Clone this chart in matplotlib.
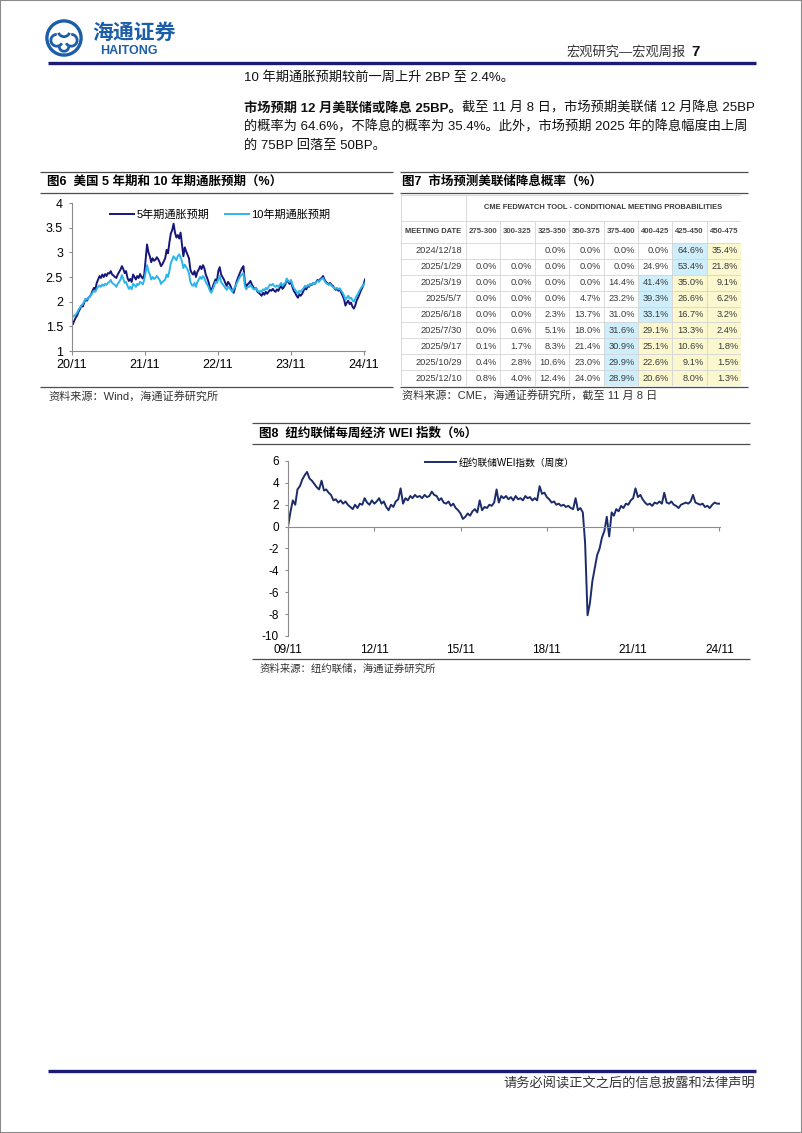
import numpy as np
import pandas as pd
import matplotlib
matplotlib.use('Agg')
import matplotlib.pyplot as plt
import matplotlib.dates as mdates
from matplotlib.lines import Line2D
from matplotlib.patches import Rectangle, Circle, Arc
from matplotlib.ticker import FuncFormatter, MultipleLocator, FixedLocator

plt.rcParams['font.family'] = ['Liberation Sans', 'Noto Sans CJK SC', 'DejaVu Sans']

# ---- fig6: 5y / 10y breakeven inflation, weekly (Fridays) from 2020-11-06, % ----
be_start = '2020-11-06'
be5y = [
    1.55, 1.62, 1.68, 1.72,            # 2020-11
    1.80, 1.85, 1.92, 1.90,            # 2020-12
    1.98, 2.05, 2.02, 2.08, 2.10,      # 2021-01
    2.15, 2.22, 2.28, 2.25,
    2.38, 2.45, 2.52, 2.48,
    2.55, 2.50, 2.56, 2.52, 2.58,
    2.57, 2.62, 2.55, 2.53,
    2.50, 2.48, 2.55, 2.60,
    2.65, 2.72, 2.66, 2.58, 2.62,
    2.48, 2.42, 2.46, 2.40,
    2.55, 2.50, 2.45, 2.52,
    2.48, 2.56, 2.50, 2.47, 2.55,
    2.85, 3.16, 3.00, 2.92,            # 2021-11
    2.80, 2.88, 2.83, 2.85, 2.90,
    2.86, 2.80, 2.72, 2.76,            # 2022-01
    2.82, 2.88, 3.05, 2.98,
    3.20, 3.38, 3.45, 3.58,
    3.40, 3.30, 3.35, 3.28, 3.40,
    3.15, 2.92, 3.10, 3.02,
    2.95, 2.88, 2.65, 2.58,
    2.55, 2.62, 2.50, 2.60, 2.65,
    2.72, 2.66, 2.74, 2.68,
    2.55, 2.48, 2.40, 2.28, 2.22,
    2.30, 2.38, 2.45, 2.42,
    2.62, 2.70, 2.55, 2.50,            # 2022-11
    2.45, 2.38, 2.32, 2.40, 2.36,
    2.30, 2.22, 2.18, 2.28,            # 2023-01
    2.40, 2.48, 2.55, 2.62,
    2.68, 2.72, 2.40, 2.30, 2.35,
    2.38, 2.42, 2.35, 2.30,
    2.25, 2.28, 2.20, 2.18,
    2.15, 2.12, 2.18, 2.14, 2.20,
    2.16, 2.20, 2.24, 2.22,
    2.26, 2.22, 2.20, 2.25,
    2.22, 2.28, 2.32, 2.26, 2.30,
    2.35, 2.45, 2.40, 2.36,
    2.42, 2.30, 2.22, 2.18,            # 2023-11
    2.12, 2.08, 2.15, 2.12, 2.16,
    2.22, 2.28, 2.25, 2.32,            # 2024-01
    2.30, 2.36, 2.34, 2.38,
    2.36, 2.40, 2.44, 2.42, 2.46,
    2.48, 2.52, 2.45, 2.40,
    2.38, 2.35, 2.38, 2.34, 2.32,
    2.28, 2.24, 2.26, 2.22,
    2.25, 2.18, 2.12, 2.05,
    1.92, 1.98, 2.02, 1.95, 1.98,
    1.90, 1.86, 1.92, 2.02,
    2.08, 2.15, 2.22, 2.28,
    2.35, 2.45,                        # 2024-11
]
be10y = [
    1.70, 1.72, 1.74, 1.78,
    1.84, 1.88, 1.92, 1.95,
    2.00, 2.06, 2.04, 2.08, 2.10,
    2.14, 2.18, 2.22, 2.20,
    2.26, 2.30, 2.33, 2.30,
    2.35, 2.32, 2.36, 2.34, 2.38,
    2.40, 2.44, 2.38, 2.36,
    2.34, 2.30, 2.36, 2.40,
    2.45, 2.54, 2.46, 2.38, 2.40,
    2.32, 2.26, 2.30, 2.25,
    2.36, 2.34, 2.30, 2.36,
    2.34, 2.40, 2.38, 2.35, 2.45,
    2.60, 2.74, 2.62, 2.55,
    2.45, 2.50, 2.46, 2.48, 2.52,
    2.48, 2.44, 2.36, 2.40,
    2.42, 2.45, 2.55, 2.50,
    2.62, 2.78, 2.85, 2.92,
    2.88, 2.84, 2.92, 2.96, 2.90,
    2.82, 2.68, 2.75, 2.70,
    2.65, 2.58, 2.40, 2.34,
    2.32, 2.38, 2.30, 2.40, 2.45,
    2.50, 2.46, 2.52, 2.48,
    2.40, 2.35, 2.30, 2.22, 2.18,
    2.25, 2.32, 2.40, 2.38,
    2.45, 2.52, 2.40, 2.36,
    2.32, 2.28, 2.24, 2.30, 2.28,
    2.24, 2.20, 2.25, 2.30,
    2.36, 2.42, 2.48, 2.52,
    2.55, 2.58, 2.32, 2.25, 2.30,
    2.30, 2.34, 2.30, 2.26,
    2.25, 2.28, 2.22, 2.20,
    2.22, 2.20, 2.25, 2.23, 2.28,
    2.25, 2.30, 2.35, 2.33,
    2.36, 2.32, 2.30, 2.33,
    2.30, 2.34, 2.38, 2.32, 2.36,
    2.38, 2.47, 2.42, 2.40,
    2.44, 2.35, 2.28, 2.24,
    2.20, 2.16, 2.22, 2.20, 2.24,
    2.27, 2.32, 2.30, 2.34,
    2.32, 2.36, 2.35, 2.38,
    2.36, 2.40, 2.42, 2.40, 2.44,
    2.46, 2.48, 2.42, 2.38,
    2.36, 2.34, 2.36, 2.32, 2.30,
    2.28, 2.26, 2.28, 2.25,
    2.27, 2.22, 2.18, 2.12,
    2.04, 2.08, 2.12, 2.06, 2.08,
    2.03, 2.00, 2.06, 2.12,
    2.16, 2.22, 2.27, 2.31,
    2.34, 2.38,
]
be_labels = ['5年期通胀预期', '10年期通胀预期']

# ---- fig7: CME FedWatch conditional meeting probabilities (%) ----
rate_bins = ['275-300', '300-325', '325-350', '350-375', '375-400', '400-425', '425-450', '450-475']
meeting_dates = ['2024/12/18', '2025/1/29', '2025/3/19', '2025/5/7', '2025/6/18',
                 '2025/7/30', '2025/9/17', '2025/10/29', '2025/12/10']
probs = [
    [None, None, 0.0, 0.0, 0.0, 0.0, 64.6, 35.4],
    [0.0, 0.0, 0.0, 0.0, 0.0, 24.9, 53.4, 21.8],
    [0.0, 0.0, 0.0, 0.0, 14.4, 41.4, 35.0, 9.1],
    [0.0, 0.0, 0.0, 4.7, 23.2, 39.3, 26.6, 6.2],
    [0.0, 0.0, 2.3, 13.7, 31.0, 33.1, 16.7, 3.2],
    [0.0, 0.6, 5.1, 18.0, 31.6, 29.1, 13.3, 2.4],
    [0.1, 1.7, 8.3, 21.4, 30.9, 25.1, 10.6, 1.8],
    [0.4, 2.8, 10.6, 23.0, 29.9, 22.6, 9.1, 1.5],
    [0.8, 4.0, 12.4, 24.0, 28.9, 20.6, 8.0, 1.3],
]

# ---- fig8: NY Fed weekly economic index, monthly readings from 2009-11 ----
wei_start = '2009-11-01'
wei_vals = [
    0.0, 1.3,                                                         # 2009
    2.4, 2.0, 3.4, 3.7, 4.3, 4.7, 5.0, 4.4, 4.2, 3.9, 3.6, 3.4,       # 2010
    4.2, 3.3, 3.4, 3.1, 2.9, 2.4, 2.5, 2.2, 2.4, 2.1, 2.3, 2.0,       # 2011
    1.8, 1.6, 2.0, 1.7, 2.1, 2.0, 2.6, 2.2, 2.0, 2.4, 2.1, 2.3,       # 2012
    2.6, 2.1, 2.3, 1.8, 1.5, 2.0, 1.8, 2.3, 2.5, 3.5, 2.1, 2.6,       # 2013
    2.4, 2.8, 2.6, 2.9, 2.7, 2.8, 2.6, 2.9, 2.7, 2.8, 3.2, 2.9,       # 2014
    2.8, 2.4, 2.6, 2.2, 2.1, 2.3, 1.9, 2.1, 1.7, 1.5, 1.2, 0.7,       # 2015
    0.9, 1.2, 1.0, 1.4, 1.6, 1.3, 2.4, 1.5, 1.8, 1.7, 2.0, 1.9,       # 2016
    2.2, 3.4, 2.2, 2.8, 2.6, 2.8, 2.5, 2.7, 2.4, 2.8, 2.5, 2.6,       # 2017
    2.4, 2.8, 2.6, 2.7, 2.4, 2.6, 2.4, 3.7, 3.0, 3.1, 2.7, 2.5,       # 2018
    2.2, 2.3, 2.0, 2.1, 1.9, 2.0, 1.8, 1.9, 1.7, 1.6, 2.6, 1.5,       # 2019
    1.7, 1.3, -1.5, -8.1, -7.0, -5.0, -3.8, -2.6, -2.0, -1.0, -0.4, 0.9,  # 2020
    -0.9, 1.3, 1.0, 1.6, 1.4, 1.9, 1.7, 2.1, 2.0, 2.4, 2.6, 3.5,      # 2021
    2.7, 2.9, 2.5, 2.2, 2.0, 2.1, 1.9, 2.2, 2.1, 2.3, 2.1, 3.1,       # 2022
    2.2, 2.1, 2.3, 2.0, 1.9, 1.7, 2.0, 2.1, 2.2, 2.1, 2.3, 2.9,       # 2023
    2.2, 2.1, 2.0, 2.1, 1.8, 1.9, 1.7, 2.0, 2.2, 2.1, 2.1,            # 2024
]
wei_label = '纽约联储WEI指数（周度）'

W, H = 802, 1133
fig = plt.figure(figsize=(W / 100, H / 100), dpi=100)


def fx(x):
    return x / W


def fy(y):
    return 1 - y / H


def add_ax(left, top, right, bottom):
    return fig.add_axes([left / W, 1 - bottom / H, (right - left) / W, (bottom - top) / H])


def hline(x0, x1, y, color='#4d4d4d', lw=0.9):
    fig.add_artist(Line2D([fx(x0), fx(x1)], [fy(y), fy(y)], transform=fig.transFigure,
                          color=color, lw=lw, solid_capstyle='butt'))


def text(x, y, s, **kw):
    kw.setdefault('va', 'center')
    return fig.text(fx(x), fy(y), s, **kw)


# page frame
fig.add_artist(Rectangle((0, 0), 1, 1, transform=fig.transFigure, fill=False,
                         edgecolor='#8a8a8a', lw=1.5))

# ---- header ----
logo_blue = '#1d5ea8'
lax = add_ax(45, 19, 83, 57)
lax.set_xlim(-1, 1)
lax.set_ylim(-1, 1)
lax.set_aspect('equal')
lax.axis('off')
lax.add_patch(Circle((0, 0), 0.9, fill=False, lw=2.4, color=logo_blue))
for cx, cy, a1, a2 in [(0, 0.38, 200, 340), (-0.38, -0.12, 90, 330), (0.38, -0.12, 210, 90)]:
    lax.add_patch(Arc((cx, cy), 0.62, 0.62, theta1=a1, theta2=a2, lw=2.0, color=logo_blue))
lax.add_patch(Arc((0, -0.45), 0.5, 0.5, theta1=180, theta2=360, lw=2.0, color=logo_blue))
text(92, 33, '海通证券', fontsize=15, color=logo_blue, fontweight='bold', style='italic')
text(100, 51, 'HAITONG', fontsize=9, color=logo_blue, fontweight='bold')

text(700, 52, '7', fontsize=11, fontweight='bold', ha='right', color='#111111')
text(686, 52, '宏观研究—宏观周报', fontsize=9.5, ha='right', color='#333333')
hline(48, 756, 63, color='#1c1a78', lw=2.4)

# ---- body text ----
body_fs = 9.5
text(244, 77, '10 年期通胀预期较前一周上升 2BP 至 2.4%。', fontsize=body_fs, color='#111111')
renderer = fig.canvas.get_renderer()
tb = text(244, 108, '市场预期 12 月美联储或降息 25BP。', fontsize=body_fs, fontweight='bold', color='#111111')
bb = tb.get_window_extent(renderer=renderer)
fig.text(bb.x1 / fig.bbox.width, fy(108), '截至 11 月 8 日，市场预期美联储 12 月降息 25BP',
         fontsize=body_fs, va='center', color='#111111')
text(244, 127, '的概率为 64.6%，不降息的概率为 35.4%。此外，市场预期 2025 年的降息幅度由上周',
     fontsize=body_fs, color='#111111')
text(244, 146, '的 75BP 回落至 50BP。', fontsize=body_fs, color='#111111')

# ---- figure 6 ----
hline(40, 393, 172)
hline(40, 393, 193)
hline(40, 393, 387)
text(47, 182, '图6  美国 5 年期和 10 年期通胀预期（%）', fontsize=9, fontweight='bold')
text(48, 396, '资料来源：Wind，海通证券研究所', fontsize=8, color='#333333')

ax6 = add_ax(72, 203, 365, 351)
d6 = pd.date_range(be_start, periods=len(be5y), freq='W-FRI')
ax6.plot(d6, be5y, color='#16167a', lw=1.4, label=be_labels[0])
ax6.plot(d6, be10y, color='#2cb5ea', lw=1.4, label=be_labels[1])
ax6.set_xlim(pd.Timestamp('2020-11-01'), pd.Timestamp('2024-11-08'))
ax6.set_ylim(1, 4)
ax6.yaxis.set_major_locator(MultipleLocator(0.5))
ax6.yaxis.set_major_formatter(FuncFormatter(lambda v, p: f'{v:g}'))
ax6.xaxis.set_major_locator(mdates.MonthLocator(bymonth=[11], bymonthday=1))
ax6.xaxis.set_major_formatter(mdates.DateFormatter('%y/%m'))
for s in ['top', 'right']:
    ax6.spines[s].set_visible(False)
for s in ['left', 'bottom']:
    ax6.spines[s].set_color('#8c8c8c')
    ax6.spines[s].set_linewidth(0.8)
ax6.tick_params(axis='y', length=2.5, width=0.8, color='#8c8c8c', labelsize=9, pad=4)
ax6.tick_params(axis='x', length=3, width=0.8, color='#8c8c8c', labelsize=9, pad=3)
ax6.patch.set_alpha(0)
ax6.legend(loc='center', bbox_to_anchor=(0.505, 0.92), ncol=2, frameon=False, fontsize=8,
           handlelength=2.2, columnspacing=1.4, handletextpad=0.2)

# ---- figure 7 (table) ----
hline(400, 748, 172)
hline(400, 748, 193)
hline(400, 748, 387)
text(402, 182, '图7  市场预测美联储降息概率（%）', fontsize=9, fontweight='bold')
text(402, 396, '资料来源：CME，海通证券研究所，截至 11 月 8 日', fontsize=8, color='#333333')

t_left, t_right, t_top, t_bottom = 401, 741, 195, 386
first_w = 65
tax = add_ax(t_left, t_top, t_right, t_bottom)
tax.set_xlim(t_left, t_right)
tax.set_ylim(t_bottom, t_top)
tax.axis('off')
col_w = (t_right - t_left - first_w) / len(rate_bins)
xs = [t_left, t_left + first_w] + [t_left + first_w + col_w * (i + 1) for i in range(len(rate_bins))]
row_h = (t_bottom - 243) / len(meeting_dates)
ys = [t_top, 221, 243] + [243 + row_h * (i + 1) for i in range(len(meeting_dates))]
blue_cell, yellow_cell = '#cdeefa', '#fbf8d0'
for i, row in enumerate(probs):
    vals = [v if v is not None else -1 for v in row]
    k = int(np.argmax(vals))
    y0, y1 = ys[i + 2], ys[i + 3]
    for j, v in enumerate(row):
        x0, x1 = xs[j + 1], xs[j + 2]
        if j == k:
            tax.add_patch(Rectangle((x0, y0), x1 - x0, y1 - y0, color=blue_cell, lw=0))
        elif j > k:
            tax.add_patch(Rectangle((x0, y0), x1 - x0, y1 - y0, color=yellow_cell, lw=0))
        if v is not None:
            tax.text(x1 - 3, (y0 + y1) / 2, f'{v:.1f}%', ha='right', va='center',
                     fontsize=6.7, color='#3a3a3a')
    tax.text(xs[1] - 4, (y0 + y1) / 2, meeting_dates[i], ha='right', va='center',
             fontsize=6.7, color='#3a3a3a')
grid_c = '#d4d4d4'
for y in ys:
    tax.plot([t_left, t_right], [y, y], color=grid_c, lw=0.6)
for j, x in enumerate(xs):
    top = t_top if j in (0, 1, len(xs) - 1) else ys[1]
    tax.plot([x, x], [top, t_bottom], color=grid_c, lw=0.6)
tax.text((xs[1] + t_right) / 2, (ys[0] + ys[1]) / 2,
         'CME FEDWATCH TOOL - CONDITIONAL MEETING PROBABILITIES',
         ha='center', va='center', fontsize=5.4, fontweight='bold', color='#3a3a3a')
tax.text((xs[0] + xs[1]) / 2, (ys[1] + ys[2]) / 2, 'MEETING DATE', ha='center', va='center',
         fontsize=5.4, fontweight='bold', color='#3a3a3a')
for j, lab in enumerate(rate_bins):
    tax.text((xs[j + 1] + xs[j + 2]) / 2, (ys[1] + ys[2]) / 2, lab, ha='center', va='center',
             fontsize=5.6, fontweight='bold', color='#4a4a4a')

# ---- figure 8 ----
hline(252, 750, 423)
hline(252, 750, 444)
hline(252, 750, 659)
text(259, 434, '图8  纽约联储每周经济 WEI 指数（%）', fontsize=9, fontweight='bold')
text(260, 669, '资料来源：纽约联储，海通证券研究所', fontsize=7.5, color='#333333')

ax8 = add_ax(288, 461, 720, 636)
d8 = pd.date_range(wei_start, periods=len(wei_vals), freq='MS')
ax8.plot(d8, wei_vals, color='#1c2c6a', lw=1.4, label=wei_label)
ax8.set_xlim(pd.Timestamp('2009-11-01'), pd.Timestamp('2024-11-08'))
ax8.set_ylim(-10, 6)
ax8.yaxis.set_major_locator(MultipleLocator(2))
ax8.yaxis.set_major_formatter(FuncFormatter(lambda v, p: f'{v:.0f}'))
wei_ticks = [mdates.date2num(pd.Timestamp(f'{y}-11-01')) for y in range(2009, 2025, 3)]
ax8.xaxis.set_major_locator(FixedLocator(wei_ticks))
for s in ['top', 'right']:
    ax8.spines[s].set_visible(False)
ax8.spines['bottom'].set_position(('data', 0))
for s in ['left', 'bottom']:
    ax8.spines[s].set_color('#8c8c8c')
    ax8.spines[s].set_linewidth(0.8)
ax8.tick_params(axis='y', length=2.5, width=0.8, color='#8c8c8c', labelsize=8.5, pad=4)
ax8.tick_params(axis='x', length=3, width=0.8, color='#8c8c8c', labelbottom=False)
sec = ax8.secondary_xaxis('bottom')
sec.xaxis.set_major_locator(FixedLocator(wei_ticks))
sec.xaxis.set_major_formatter(mdates.DateFormatter('%y/%m'))
sec.spines['bottom'].set_visible(False)
sec.tick_params(length=0, labelsize=8.5, pad=6)
ax8.patch.set_alpha(0)
ax8.legend(loc='center', bbox_to_anchor=(0.49, 0.99), frameon=False, fontsize=7,
           handlelength=3.2, handletextpad=0.3)

# ---- footer ----
hline(48, 756, 1071, color='#1c1a78', lw=2.4)
text(755, 1084, '请务必阅读正文之后的信息披露和法律声明', fontsize=9.5, ha='right', color='#333333')

fig.savefig('out.png', dpi=100)
